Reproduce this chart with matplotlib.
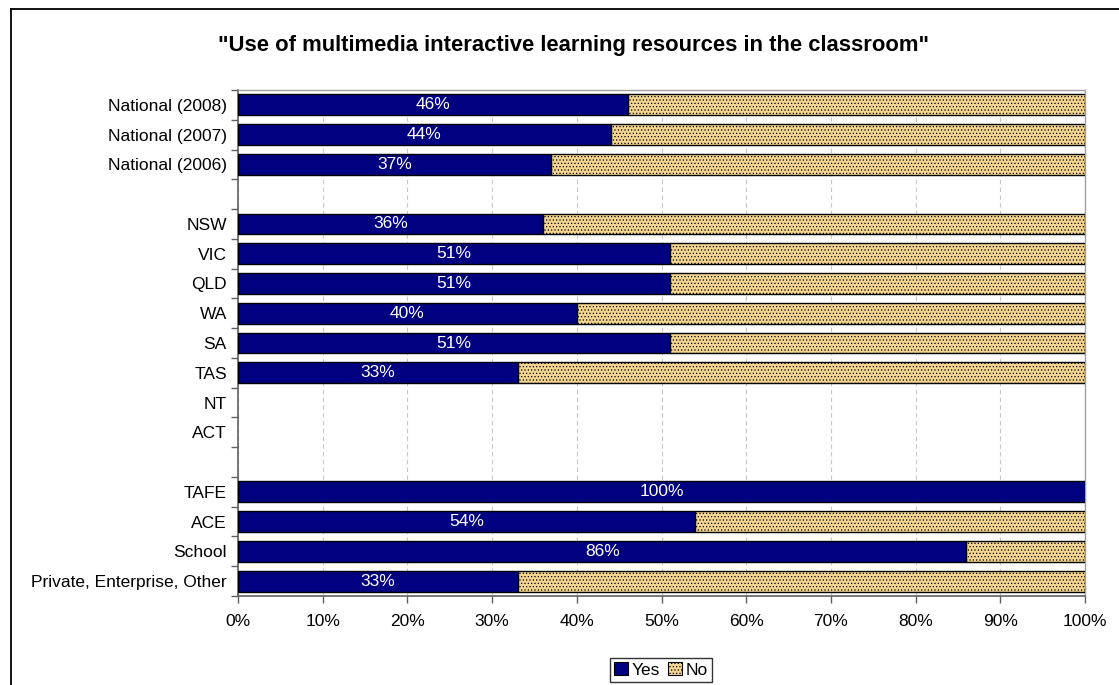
import matplotlib
matplotlib.use("Agg")
import matplotlib.pyplot as plt
from matplotlib.lines import Line2D
from matplotlib.patches import Patch
from matplotlib.ticker import PercentFormatter

plt.rcParams['font.family'] = ['Liberation Sans', 'DejaVu Sans']
plt.rcParams['hatch.linewidth'] = 0.5
plt.rcParams['hatch.color'] = '#D8BA74'

categories = ["National (2008)", "National (2007)", "National (2006)", "",
              "NSW", "VIC", "QLD", "WA", "SA", "TAS", "NT", "ACT", "",
              "TAFE", "ACE", "School", "Private, Enterprise, Other"]
yes_vals = [46, 44, 37, None, 36, 51, 51, 40, 51, 33, 0, 0, None, 100, 54, 86, 33]
no_vals = [54, 56, 63, None, 64, 49, 49, 60, 49, 67, 0, 0, None, 0, 46, 14, 67]
title = '"Use of multimedia interactive learning resources in the classroom"'
series_names = ["Yes", "No"]

W, H = 1119, 685
fig = plt.figure(figsize=(W / 100, H / 100), dpi=100)
ax = fig.add_axes([238 / W, 1 - 596 / H, (1085 - 238) / W, (596 - 90) / H])

n = len(categories)
ys = list(range(n))
yes_c = '#000080'
no_c = '#F3D590'
bh = 0.7
FS = 12.5
for y, yv, nv in zip(ys, yes_vals, no_vals):
    if yv is None:
        continue
    if yv > 0:
        ax.barh(y, yv, height=bh, color=yes_c, edgecolor='black', linewidth=1, zorder=3)
        ax.text(yv / 2, y, f"{yv}%", color='white', ha='center', va='center',
                fontsize=FS, zorder=4)
    if nv > 0:
        ax.barh(y, nv, left=yv, height=bh, color=no_c, edgecolor='black',
                linewidth=1, hatch='.....', zorder=3)

ax.set_xlim(0, 100)
ax.set_ylim(n - 0.5, -0.5)
ax.set_xticks(range(0, 101, 10))
ax.xaxis.set_major_formatter(PercentFormatter(decimals=0))
ax.set_yticks([i - 0.5 for i in range(n + 1)])
ax.set_yticklabels([])
ax.set_yticks(ys, minor=True)
ax.set_yticklabels(categories, minor=True)
ax.tick_params(axis='y', which='minor', length=0, pad=8, labelsize=FS)
ax.tick_params(axis='y', which='major', length=5, color='#606060', width=1)
ax.tick_params(axis='x', length=5, color='#606060', width=1, labelsize=FS, pad=8)
ax.grid(axis='x', linestyle=(0, (4, 3)), color='#C8C8C8', linewidth=0.8, zorder=0)
for s in ['top', 'right']:
    ax.spines[s].set_color('#A0A0A0')
    ax.spines[s].set_linewidth(1)
for s in ['left', 'bottom']:
    ax.spines[s].set_color('#606060')
    ax.spines[s].set_linewidth(1.2)

fig.text(573 / W, 1 - 45 / H, title, ha='center', va='center', fontsize=15.8,
         fontweight='bold')

handles = [Patch(facecolor=yes_c, edgecolor='black', linewidth=0.8),
           Patch(facecolor=no_c, edgecolor='black', linewidth=0.8, hatch='.....')]
leg = fig.legend(handles, series_names, loc='center', bbox_to_anchor=(661 / W, 1 - 670 / H),
                 ncol=2, fontsize=FS, frameon=True, fancybox=False, handlelength=0.8,
                 handleheight=0.8, handletextpad=0.2, columnspacing=0.5, borderpad=0.25,
                 borderaxespad=0)
leg.get_frame().set_edgecolor('black')
leg.get_frame().set_linewidth(1)

x0 = 11 / W
yt = 1 - 9 / H
fig.add_artist(Line2D([x0, x0], [0, yt], color='black', linewidth=1.3))
fig.add_artist(Line2D([x0, 1], [yt, yt], color='black', linewidth=1.3))

fig.savefig("out.png", dpi=100)
